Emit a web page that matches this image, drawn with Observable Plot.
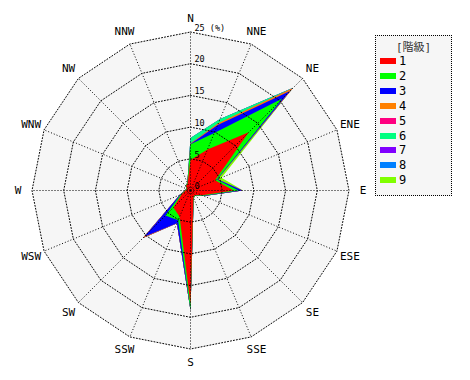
<!DOCTYPE html>
<html><head><meta charset="utf-8">
<script src="https://cdn.jsdelivr.net/npm/d3@7"></script>
<script src="https://cdn.jsdelivr.net/npm/@observablehq/plot@0.6"></script>
<style>
body{margin:0;background:#fff;}
#wrap{position:relative;width:470px;height:380px;}
#chart{position:absolute;left:0;top:0;}
#legend{position:absolute;left:375px;top:35px;width:75px;height:159px;border:1px dotted #000;background:#f6f6f6;font-family:"DejaVu Sans Mono",monospace;font-size:12px;color:#000;}
#legend .title{position:absolute;left:0;width:75px;top:2px;text-align:center;font-size:11px;font-family:"DejaVu Sans Mono","Noto Sans CJK JP",monospace;color:#333;}
#legend .item{position:absolute;left:4px;height:14px;line-height:14px;}
#legend .sw{position:absolute;left:0;top:4px;width:16px;height:6px;}
#legend .lb{position:absolute;left:19px;top:0;}
</style></head><body>
<div id="wrap"><div id="chart"></div><div id="legend"></div></div>
<script>
const directions = ["N","NNE","NE","ENE","E","ESE","SE","SSE","S","SSW","SW","WSW","W","WNW","NW","NNW"];
const classes = ["1","2","3","4","5","6","7","8","9"];
const colors = ["#ff0000","#00ff00","#0000ff","#ff8000","#ff0080","#00ff80","#8000ff","#0080ff","#80ff00"];
// frequency (%) of each class per direction
const class1 = [4.8, 7.0, 13.0, 4.2, 6.8, 2.0, 1.0, 1.2, 18.0, 4.5, 3.8, 1.5, 0.8, 0.6, 1.0, 1.2];
const class2 = [2.5, 2.8, 7.5, 0.3, 0.8, 0.2, 0.1, 0.1, 0.9, 0.6, 1.8, 0.2, 0.1, 0.1, 0.1, 0.1];
const class3 = [0.05, 1.4, 1.7, 0.1, 0.6, 0.1, 0, 0, 0, 0.5, 4.7, 0.1, 0, 0, 0, 0];
const class4 = [0.05, 0.3, 0.6, 0, 0, 0, 0, 0, 0, 0, 0.3, 0, 0, 0, 0, 0];
const class5 = [0, 0, 0, 0, 0, 0, 0, 0, 0, 0, 0, 0, 0, 0, 0, 0];
const class6 = [0.9, 0.7, 0.1, 0, 0, 0, 0, 0, 0, 0, 0, 0, 0, 0, 0, 0];
const class7 = [0, 0, 0, 0, 0, 0, 0, 0, 0, 0, 0, 0, 0, 0, 0, 0];
const class8 = [0, 0, 0, 0, 0, 0, 0, 0, 0, 0, 0, 0, 0, 0, 0, 0];
const class9 = [0, 0, 0, 0.7, 0.1, 0, 0, 0, 0, 0, 0, 0, 0, 0, 0, 0];
const ringTicks = [0, 5, 10, 15, 20, 25];
const rMax = 25;
const labelR = 27.2;

const series = [class1,class2,class3,class4,class5,class6,class7,class8,class9];
const ang = i => i * Math.PI * 2 / directions.length;
const toPts = vals => vals.map((r, i) => ({dir: directions[i], r, x: r * Math.sin(ang(i)), y: r * Math.cos(ang(i))}));

let acc = directions.map(() => 0);
const cumulative = series.map(s => { acc = acc.map((a, i) => a + s[i]); return toPts(acc); });

const gridStyle = {stroke: "#000", strokeWidth: 1, strokeDasharray: "1,2"};
const classMarks = cumulative.map((pts, k) => ({pts, k})).reverse()
  .map(({pts, k}) => Plot.line(pts, {x: "x", y: "y", fill: colors[k], stroke: "none", curve: "linear-closed"}));

const chart = Plot.plot({
  width: 470, height: 380,
  marginLeft: 31.5, marginRight: 121.5, marginTop: 31.5, marginBottom: 31.5,
  x: {domain: [-rMax, rMax], axis: null},
  y: {domain: [-rMax, rMax], axis: null},
  style: {background: "transparent", overflow: "visible"},
  marks: [
    Plot.line(toPts(directions.map(() => rMax)), {x: "x", y: "y", fill: "#f6f6f6", stroke: "none", curve: "linear-closed"}),
    ...classMarks,
    ...ringTicks.filter(t => t > 0).map(t =>
      Plot.line(toPts(directions.map(() => t)), {x: "x", y: "y", ...gridStyle, fill: "none", curve: "linear-closed"})),
    Plot.link(directions, {x1: () => 0, y1: () => 0,
      x2: (d, i) => rMax * Math.sin(ang(i)), y2: (d, i) => rMax * Math.cos(ang(i)), ...gridStyle}),
    Plot.text(ringTicks, {x: () => 0, y: d => d, text: d => d === rMax ? d + " (%)" : String(d),
      dx: 4, dy: -4, textAnchor: "start", fontSize: 8.5, fontFamily: "DejaVu Sans Mono", fill: "#000"}),
    Plot.text(directions, {x: (d, i) => labelR * Math.sin(ang(i)), y: (d, i) => labelR * Math.cos(ang(i)),
      text: d => d, fontSize: 11, fontFamily: "DejaVu Sans Mono", fill: "#000", textAnchor: "middle"})
  ]
});
document.getElementById("chart").appendChild(chart);

const legend = document.getElementById("legend");
const t = document.createElement("div"); t.className = "title"; t.textContent = "[階級]"; legend.appendChild(t);
classes.forEach((c, k) => {
  const it = document.createElement("div"); it.className = "item"; it.style.top = (18 + k * 14.9) + "px";
  const sw = document.createElement("div"); sw.className = "sw"; sw.style.background = colors[k];
  const lb = document.createElement("div"); lb.className = "lb"; lb.textContent = c;
  it.appendChild(sw); it.appendChild(lb); legend.appendChild(it);
});
</script></body></html>
